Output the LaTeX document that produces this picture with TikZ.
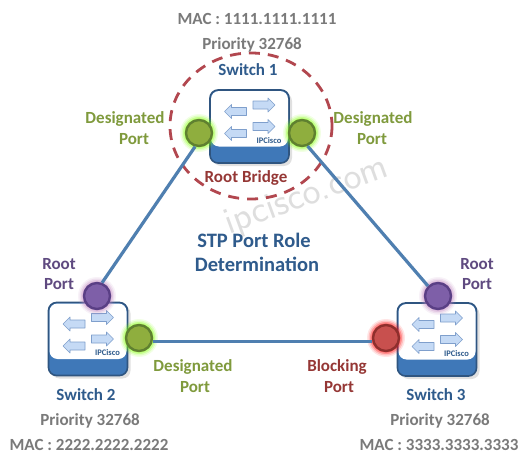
\documentclass[tikz,border=0pt]{standalone}
\usepackage{fontspec}
\setmainfont{Carlito}
\usetikzlibrary{calc}
\definecolor{linkblue}{HTML}{4F7FB0}
\definecolor{swedge}{HTML}{2F5580}
\definecolor{swfill}{HTML}{3F78B8}
\definecolor{arrowfill}{HTML}{C5DAF5}
\definecolor{arrowedge}{HTML}{7F9FCC}
\definecolor{greyt}{HTML}{7A7A7A}
\definecolor{navyt}{HTML}{2F5B8C}
\definecolor{greent}{HTML}{7F9A3C}
\definecolor{redt}{HTML}{953735}
\definecolor{purplet}{HTML}{5F4A80}
\definecolor{dashred}{HTML}{B2474F}
\definecolor{HTMLgreenedge}{HTML}{5F8030}
\definecolor{HTMLgreenfill}{HTML}{8FAE3E}
\definecolor{HTMLpurpleedge}{HTML}{5A3F85}
\definecolor{HTMLpurplefill}{HTML}{7E5FA8}
\definecolor{HTMLrededge}{HTML}{8F2F2D}
\definecolor{HTMLredfill}{HTML}{C8504E}
\tikzset{
  x=1pt,y=-1pt,
  lbl/.style={font=\bfseries\fontsize{17}{20}\selectfont,inner sep=0pt,align=center},
  titlelbl/.style={lbl,text=navyt,font=\bfseries\fontsize{20.5}{24}\selectfont},
  greylbl/.style={lbl,text=greyt},
  swlbl/.style={lbl,text=navyt},
  greenlbl/.style={lbl,text=greent},
  redlbl/.style={lbl,text=redt},
  purplelbl/.style={lbl,text=purplet},
  link/.style={draw=linkblue,line width=3.2pt},
  swbox/.style={draw=swedge,line width=1.6pt,fill=swfill,rounded corners=8pt,minimum width=79pt,minimum height=73pt,inner sep=0pt},
  portnode/.style={circle,minimum size=26pt,inner sep=0pt,line width=2.4pt},
  greenport/.style={portnode,draw=HTMLgreenedge,fill=HTMLgreenfill},
  purpleport/.style={portnode,draw=HTMLpurpleedge,fill=HTMLpurplefill},
  redport/.style={portnode,draw=HTMLrededge,fill=HTMLredfill},
  arr/.style={draw=arrowedge,fill=arrowfill,line width=.7pt,line join=round},
}
\newcommand{\rarrowat}[2]{\draw[arr] ($(#1)+(#2)+(-11,-4)$) -- ++(15,0) -- ++(0,-3) -- ++(7,7) -- ++(-7,7) -- ++(0,-3) -- ++(-15,0) -- cycle;}
\newcommand{\larrowat}[2]{\draw[arr] ($(#1)+(#2)+(11,-4)$) -- ++(-15,0) -- ++(0,-3) -- ++(-7,7) -- ++(7,7) -- ++(0,-3) -- ++(15,0) -- cycle;}
\newcommand{\switchat}[3]{%
  \fill[black,opacity=.12,rounded corners=8pt] (#2+3-39.5,#3+3-36.5) rectangle (#2+3+39.5,#3+3+36.5);
  \node[swbox] (#1) at (#2,#3) {};
  \fill[white,rounded corners=8pt] (#2-38.5,#3-35.5) rectangle (#2+38.5,#3+20);
  \coordinate (#1c) at (#2,#3);
  \larrowat{#1c}{-14,-15}
  \rarrowat{#1c}{14.5,-21.5}
  \larrowat{#1c}{-14,7}
  \rarrowat{#1c}{14.5,0}
  \node[font=\bfseries\fontsize{8.5}{9}\selectfont,text=navyt,inner sep=0pt] (#1logo) at (#2+19.5,#3+14) {IPCisco};
}
\newcommand{\glowat}[3]{%
  \foreach \r/\o in {19/.10,17.5/.16,16/.25,14.5/.35}{\fill[#3,opacity=\o] (#1,#2) circle (\r);}
}
\begin{document}
\begin{tikzpicture}
\useasboundingbox (0,0) rectangle (531,463);
\fill[white] (0,0) rectangle (531,463);

\node[rotate=20,text=black!13,font=\sffamily\fontsize{38}{40}\selectfont,inner sep=0pt] (wm) at (307,197) {ipcisco.com};

\switchat{swa}{249.5}{126.5}
\switchat{swb}{88}{339}
\switchat{swc}{437}{339.5}

\draw[dashred,line width=2.8pt,dash pattern=on 11pt off 8pt] (251,126) ellipse (81 and 73);

\glowat{199}{133}{green!50!yellow}
\glowat{302}{133}{green!50!yellow}
\glowat{97}{296}{violet!50!white}
\glowat{139}{338}{green!50!yellow}
\glowat{438}{296}{violet!50!white}
\glowat{386}{338}{red}

\node[greenport] (pa) at (199,133) {};
\node[greenport] (pb) at (302,133) {};
\node[purpleport] (pc) at (97,296) {};
\node[greenport] (pd) at (139,338) {};
\node[purpleport] (pe) at (438,296) {};
\node[redport] (pf) at (386,338) {};

\draw[link] (pa.254) -- (pc.69);
\draw[link] (pb.-67) -- (pe.135);
\draw[link] (pd.-13) -- (pf.193);

\node[greylbl] (t1) at (257,19) {MAC : 1111.1111.1111};
\node[greylbl] (t2) at (252,45) {Priority 32768};
\node[swlbl] (t3) at (248,70) {Switch 1};
\node[redlbl] (t4) at (246,178) {Root Bridge};
\node[greenlbl] (t5) at (125,119) {Designated};
\node[greenlbl] (t6) at (134,139) {Port};
\node[greenlbl] (t7) at (373,119) {Designated};
\node[greenlbl] (t8) at (372,139) {Port};
\node[titlelbl] (t9) at (254,240) {STP Port Role};
\node[titlelbl] (t10) at (257,264) {Determination};
\node[purplelbl] (t11) at (59,264) {Root};
\node[purplelbl] (t12) at (59,284) {Port};
\node[purplelbl] (t13) at (477,264) {Root};
\node[purplelbl] (t14) at (477,284) {Port};
\node[greenlbl] (t15) at (193,367) {Designated};
\node[greenlbl] (t16) at (195,387) {Port};
\node[redlbl] (t17) at (337,367) {Blocking};
\node[redlbl] (t18) at (339,387) {Port};
\node[swlbl] (t19) at (86,395) {Switch 2};
\node[greylbl] (t20) at (90,421) {Priority 32768};
\node[greylbl] (t21) at (89,445) {MAC : 2222.2222.2222};
\node[swlbl] (t22) at (436,395) {Switch 3};
\node[greylbl] (t23) at (440,421) {Priority 32768};
\node[greylbl] (t24) at (439,445) {MAC : 3333.3333.3333};
\end{tikzpicture}
\end{document}
